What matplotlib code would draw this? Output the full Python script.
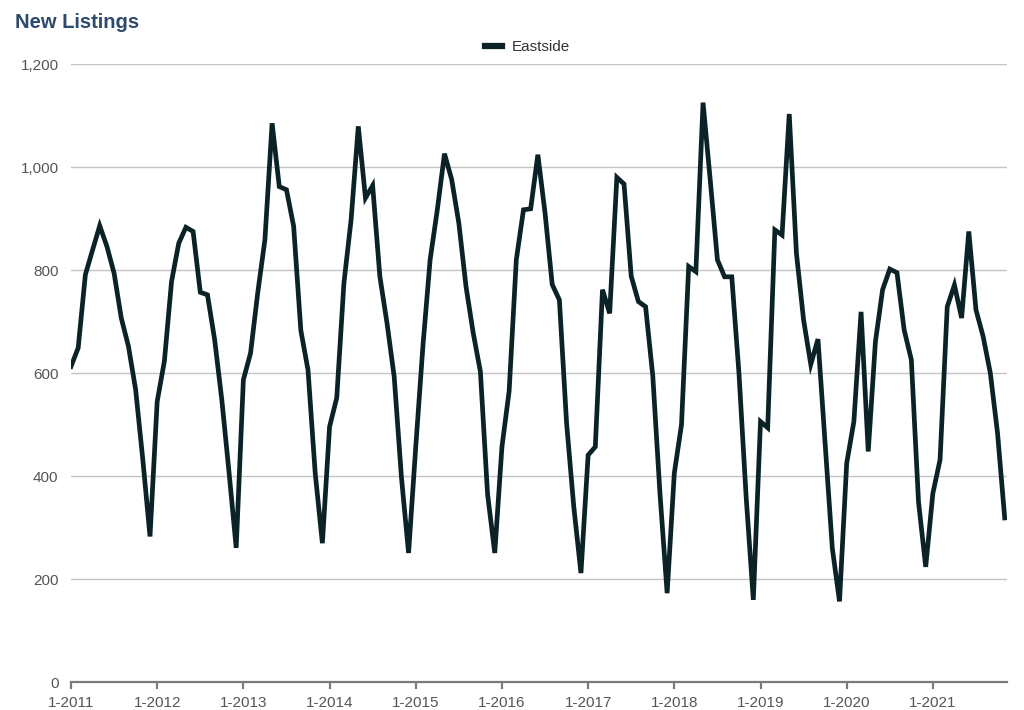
import matplotlib
matplotlib.use("Agg")
import matplotlib.pyplot as plt
from matplotlib.ticker import FuncFormatter

plt.rcParams['font.family'] = ['Liberation Sans', 'DejaVu Sans']

title = "New Listings"
series_name = "Eastside"
years = list(range(2011, 2022))
tick_labels = [f"1-{y}" for y in years]

v2011 = [613, 649, 791, 839, 886, 846, 794, 707, 652, 568, 432, 283]
v2012 = [545, 623, 778, 852, 883, 875, 757, 752, 665, 548, 408, 261]
v2013 = [587, 639, 756, 859, 1085, 962, 956, 885, 683, 606, 406, 270]
v2014 = [496, 552, 775, 898, 1079, 940, 964, 788, 697, 593, 399, 251]
v2015 = [457, 653, 820, 917, 1026, 976, 891, 768, 678, 603, 365, 251]
v2016 = [457, 565, 820, 917, 919, 1024, 911, 772, 742, 503, 341, 212]
v2017 = [441, 457, 762, 716, 980, 967, 788, 739, 729, 595, 367, 173]
v2018 = [406, 500, 807, 797, 1125, 975, 820, 787, 787, 600, 360, 160]
v2019 = [506, 494, 878, 868, 1103, 833, 703, 617, 666, 462, 260, 157]
v2020 = [425, 506, 719, 448, 661, 762, 802, 795, 684, 626, 350, 224]
v2021 = [367, 432, 729, 771, 707, 875, 723, 671, 600, 484, 319]

values = v2011 + v2012 + v2013 + v2014 + v2015 + v2016 + v2017 + v2018 + v2019 + v2020 + v2021
months = list(range(len(values)))

fig = plt.figure(figsize=(10.24, 7.10), dpi=100)
ax = fig.add_axes([71/1024, 1 - 682.3/710, (1006.5 - 71)/1024, (682.3 - 64)/710])

line_color = '#0b2327'
ax.plot(months, values, color=line_color, lw=3.4, solid_joinstyle='miter', label=series_name, zorder=3)

ax.set_ylim(0, 1200)
ax.set_xlim(0, 130.25)
ax.set_yticks(range(0, 1201, 200))
ax.yaxis.set_major_formatter(FuncFormatter(lambda v, p: f"{int(v):,}"))
ax.set_xticks([12 * i for i in range(len(years))])
ax.set_xticklabels(tick_labels)

ax.grid(axis='y', color='#c4c4c4', lw=1.0)
ax.set_axisbelow(True)
for s in ['top', 'right', 'left']:
    ax.spines[s].set_visible(False)
ax.spines['bottom'].set_color('#7a7a7a')
ax.spines['bottom'].set_linewidth(1.6)
ax.spines['bottom'].set_zorder(4)

ax.tick_params(axis='y', length=0, pad=9, labelsize=11, labelcolor='#555555')
ax.tick_params(axis='x', length=5, width=1.6, color='#7a7a7a', direction='out', pad=5,
               labelsize=11, labelcolor='#555555')

fig.text(15/1024, 1 - 22/710, title, fontsize=14.5, fontweight='bold', color='#2b4a6c',
         ha='left', va='center')

leg = ax.legend(loc='center', bbox_to_anchor=(0.488, (682.3 - 47) / (682.3 - 64)),
                frameon=False, fontsize=11, handlelength=1.1, handletextpad=0.6,
                borderaxespad=0)
for t in leg.get_texts():
    t.set_color('#333333')
for h in leg.get_lines():
    h.set_linewidth(4.5)

fig.savefig('out.png', dpi=100)
